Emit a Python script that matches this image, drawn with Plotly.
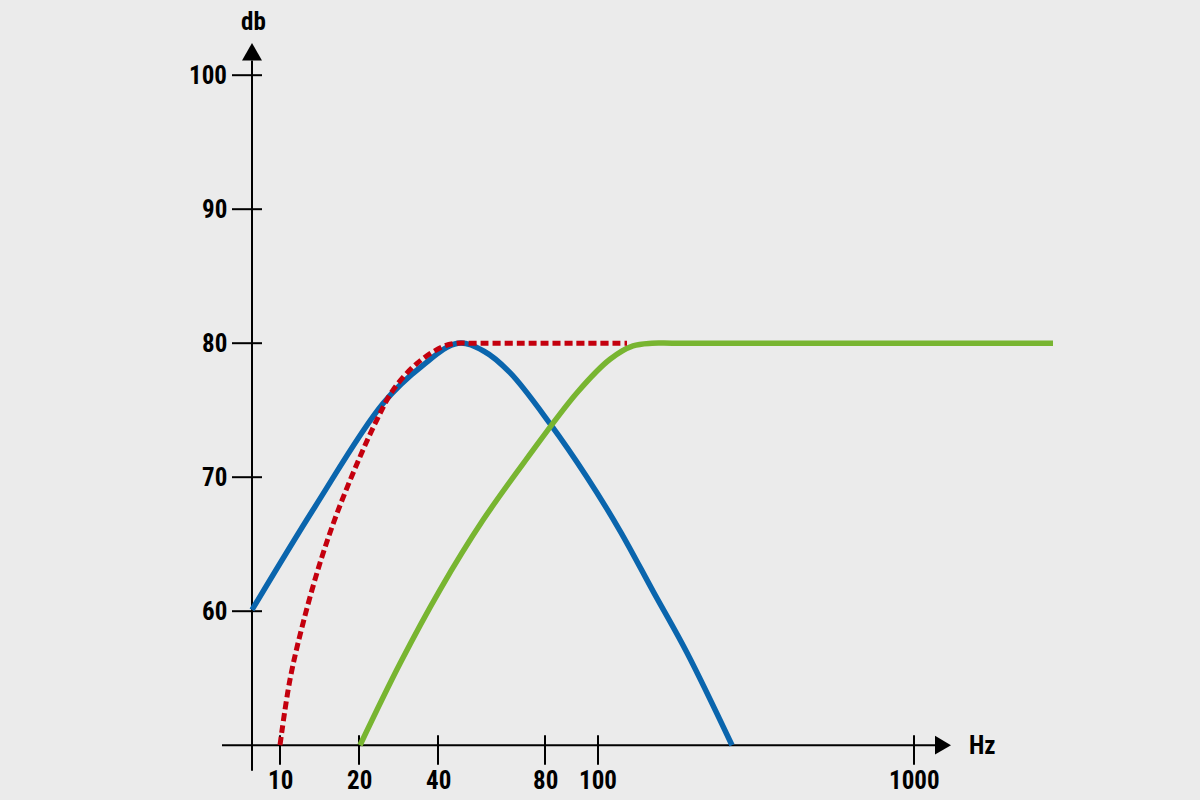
import plotly.graph_objects as go

# ---- data (x in axis-position units, y in dB) ----
blue_x = [0, 63, 131, 170, 206, 232, 258, 298, 335, 368, 401, 435, 480]
blue_y = [60.1, 67.8, 75.5, 78.3, 80, 79.4, 77.8, 74.0, 70.0, 66.0, 61.5, 56.9, 50]

red_x = [28, 38, 51, 68, 85, 105, 125, 141, 165, 191, 205, 220, 270, 320, 375]
red_y = [50, 54.9, 59.1, 63.6, 67.3, 71.0, 74.3, 76.5, 78.5, 79.75, 80, 80, 80, 80, 80]

green_x = [108, 148, 188, 231, 275, 325, 358, 381, 400, 420, 480, 560, 680, 801]
green_y = [50, 56.1, 61.6, 66.8, 71.4, 76.3, 78.8, 79.8, 80, 80, 80, 80, 80, 80]

x_tick_pos = [28, 107, 186, 293, 346, 662]
x_tick_labels = ["10", "20", "40", "80", "100", "1000"]
y_tick_vals = [60, 70, 80, 90, 100]
y_tick_labels = ["60", "70", "80", "90", "100"]

# ---- style ----
BG = "#ebebeb"
FONT = "Roboto Condensed, DejaVu Sans Condensed, Liberation Sans Narrow, Arial Narrow, Roboto, sans-serif"
X_MIN, X_MAX = -40, 820
Y_MIN, Y_MAX = 48, 103
Y_BASE = 50
X_AXIS_START, X_AXIS_END, X_ARROW_TIP = -30, 683, 699
Y_AXIS_BOTTOM, Y_AXIS_END, Y_ARROW_TIP = 48.1, 101.1, 102.4

fig = go.Figure()

fig.add_trace(go.Scatter(x=blue_x, y=blue_y, mode="lines",
                         line=dict(color="#0a65ad", width=5.5, shape="spline", smoothing=1.0)))
fig.add_trace(go.Scatter(x=green_x, y=green_y, mode="lines",
                         line=dict(color="#78b531", width=5.5, shape="spline", smoothing=1.0)))
fig.add_trace(go.Scatter(x=red_x, y=red_y, mode="lines",
                         line=dict(color="#c4000e", width=5, shape="spline", smoothing=1.0,
                                   dash="8px,4px")))

shapes = []
shapes.append(dict(type="line", x0=X_AXIS_START, x1=X_AXIS_END, y0=Y_BASE, y1=Y_BASE,
                   line=dict(color="black", width=2), layer="below"))
shapes.append(dict(type="line", x0=0, x1=0, y0=Y_AXIS_BOTTOM, y1=Y_AXIS_END,
                   line=dict(color="black", width=2), layer="below"))
shapes.append(dict(type="path",
                   path=f"M -10 {Y_AXIS_END} L 10 {Y_AXIS_END} L 0 {Y_ARROW_TIP} Z",
                   fillcolor="black", line=dict(width=0)))
shapes.append(dict(type="path",
                   path=f"M {X_AXIS_END} {Y_BASE+0.7} L {X_AXIS_END} {Y_BASE-0.7} L {X_ARROW_TIP} {Y_BASE} Z",
                   fillcolor="black", line=dict(width=0)))
for v in y_tick_vals:
    shapes.append(dict(type="line", x0=-20, x1=10, y0=v, y1=v,
                       line=dict(color="black", width=2), layer="below"))
for p in x_tick_pos:
    shapes.append(dict(type="line", x0=p, x1=p, y0=Y_BASE + 0.75, y1=Y_BASE - 1.45,
                       line=dict(color="black", width=2), layer="below"))

tfont = dict(family=FONT, size=25, color="black", weight="bold")
annotations = []
for v, t in zip(y_tick_vals, y_tick_labels):
    annotations.append(dict(x=-23, y=v, text=t, showarrow=False, xanchor="right", yanchor="middle",
                            font=tfont))
for p, t in zip(x_tick_pos, x_tick_labels):
    annotations.append(dict(x=p, y=Y_BASE, text=t, showarrow=False, xanchor="center", yanchor="top",
                            yshift=-19, font=tfont))
annotations.append(dict(x=1, y=Y_ARROW_TIP, text="db", showarrow=False, xanchor="center",
                        yanchor="bottom", yshift=5, font=tfont))
annotations.append(dict(x=X_ARROW_TIP + 16, y=Y_BASE, text="Hz", showarrow=False, xanchor="left",
                        yanchor="middle", font=tfont))

fig.update_layout(
    width=1200, height=800,
    margin=dict(l=212, r=128, t=35, b=28),
    paper_bgcolor=BG, plot_bgcolor=BG,
    showlegend=False,
    shapes=shapes, annotations=annotations,
    xaxis=dict(range=[X_MIN, X_MAX], visible=False, fixedrange=True),
    yaxis=dict(range=[Y_MIN, Y_MAX], visible=False, fixedrange=True),
)

post = (
    "document.body.style.margin='0';"
    "document.body.style.background='#ebebeb';"
    "document.querySelectorAll('.annotation-text').forEach(function(e){e.style.fontStretch='condensed';});"
)
fig.write_html("out.html", post_script=post, config={"displayModeBar": False})
